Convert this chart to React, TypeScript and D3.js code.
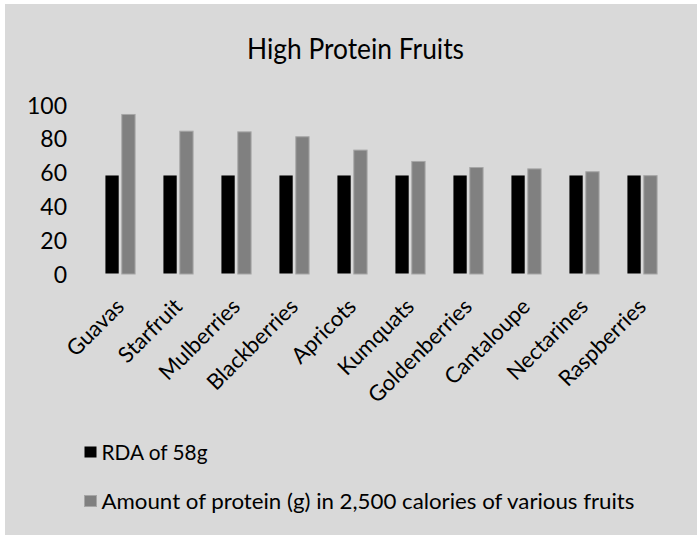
import React from "react";
import * as d3 from "d3";

const categories = ["Guavas", "Starfruit", "Mulberries", "Blackberries", "Apricots", "Kumquats", "Goldenberries", "Cantaloupe", "Nectarines", "Raspberries"];
const rdaValues = [58, 58, 58, 58, 58, 58, 58, 58, 58, 58];
const proteinValues = [94.4, 84.5, 84.1, 81.2, 73.3, 66.6, 63.0, 62.2, 60.5, 58.2];
const seriesNames = ["RDA of 58g", "Amount of protein (g) in 2,500 calories of various fruits"];
const seriesColors = ["#000000", "#808080"];
const yTicks = [0, 20, 40, 60, 80, 100];

const W = 699;
const H = 537;
const FONT = "Lato, 'Noto Sans', sans-serif";

export default function App() {
  const x0 = d3.scaleBand<string>().domain(categories).range([91.5, 671.5]).paddingInner(0.48).paddingOuter(0.24);
  const x1 = d3.scaleBand<string>().domain(seriesNames).range([0, x0.bandwidth()]).paddingInner(0.1);
  const y = d3.scaleLinear().domain([0, 100]).range([273.5, 104.5]);
  const series = [rdaValues, proteinValues];

  return (
    <div style={{ position: "absolute", left: 0, top: 0 }}>
      <svg width={W} height={H} style={{ display: "block" }}>
        <rect x={0} y={0} width={W} height={H} fill="#ffffff" />
        <rect x={5} y={4} width={692} height={531} fill="#d9d9d9" />
        <text x={355.5} y={59} textAnchor="middle" fontFamily={FONT} fontSize={29} fill="#000" textLength={217} lengthAdjust="spacingAndGlyphs">
          High Protein Fruits
        </text>
        {yTicks.map((t) => (
          <text key={t} x={67} y={y(t) + 9} textAnchor="end" fontFamily={FONT} fontSize={23} fill="#000">
            {t}
          </text>
        ))}
        {categories.map((c, i) => (
          <g key={c} transform={`translate(${x0(c)},0)`}>
            {series.map((vals, s) => {
              const name = seriesNames[s];
              const bx = x1(name)!;
              const top = y(vals[i]);
              const h = y(0) - top;
              return s === 0 ? (
                <rect key={s} x={bx} y={top} width={x1.bandwidth() - 1} height={h} fill={seriesColors[s]} />
              ) : (
                <rect key={s} x={bx + 0.5} y={top + 0.5} width={x1.bandwidth() - 1} height={h} fill={seriesColors[s]} stroke="#a6a6a6" strokeWidth={1} />
              );
            })}
          </g>
        ))}
        {categories.map((c) => {
          const cx = x0(c)! + x0.bandwidth() / 2 + 5;
          return (
            <text key={c} transform={`translate(${cx},308) rotate(-45)`} textAnchor="end" fontFamily={FONT} fontSize={22} fill="#000">
              {c}
            </text>
          );
        })}
        {seriesNames.map((n, i) => {
          const ly = i === 0 ? 460 : 509;
          return (
            <g key={n}>
              <rect x={84.5} y={ly - 13.5} width={12} height={11} fill={seriesColors[i]} stroke={i === 0 ? "none" : "#a6a6a6"} strokeWidth={1} />
              <text x={101.5} y={ly} fontFamily={FONT} fontSize={21} fill="#000" textLength={i === 0 ? 106 : 533} lengthAdjust="spacingAndGlyphs">
                {n}
              </text>
            </g>
          );
        })}
      </svg>
    </div>
  );
}
